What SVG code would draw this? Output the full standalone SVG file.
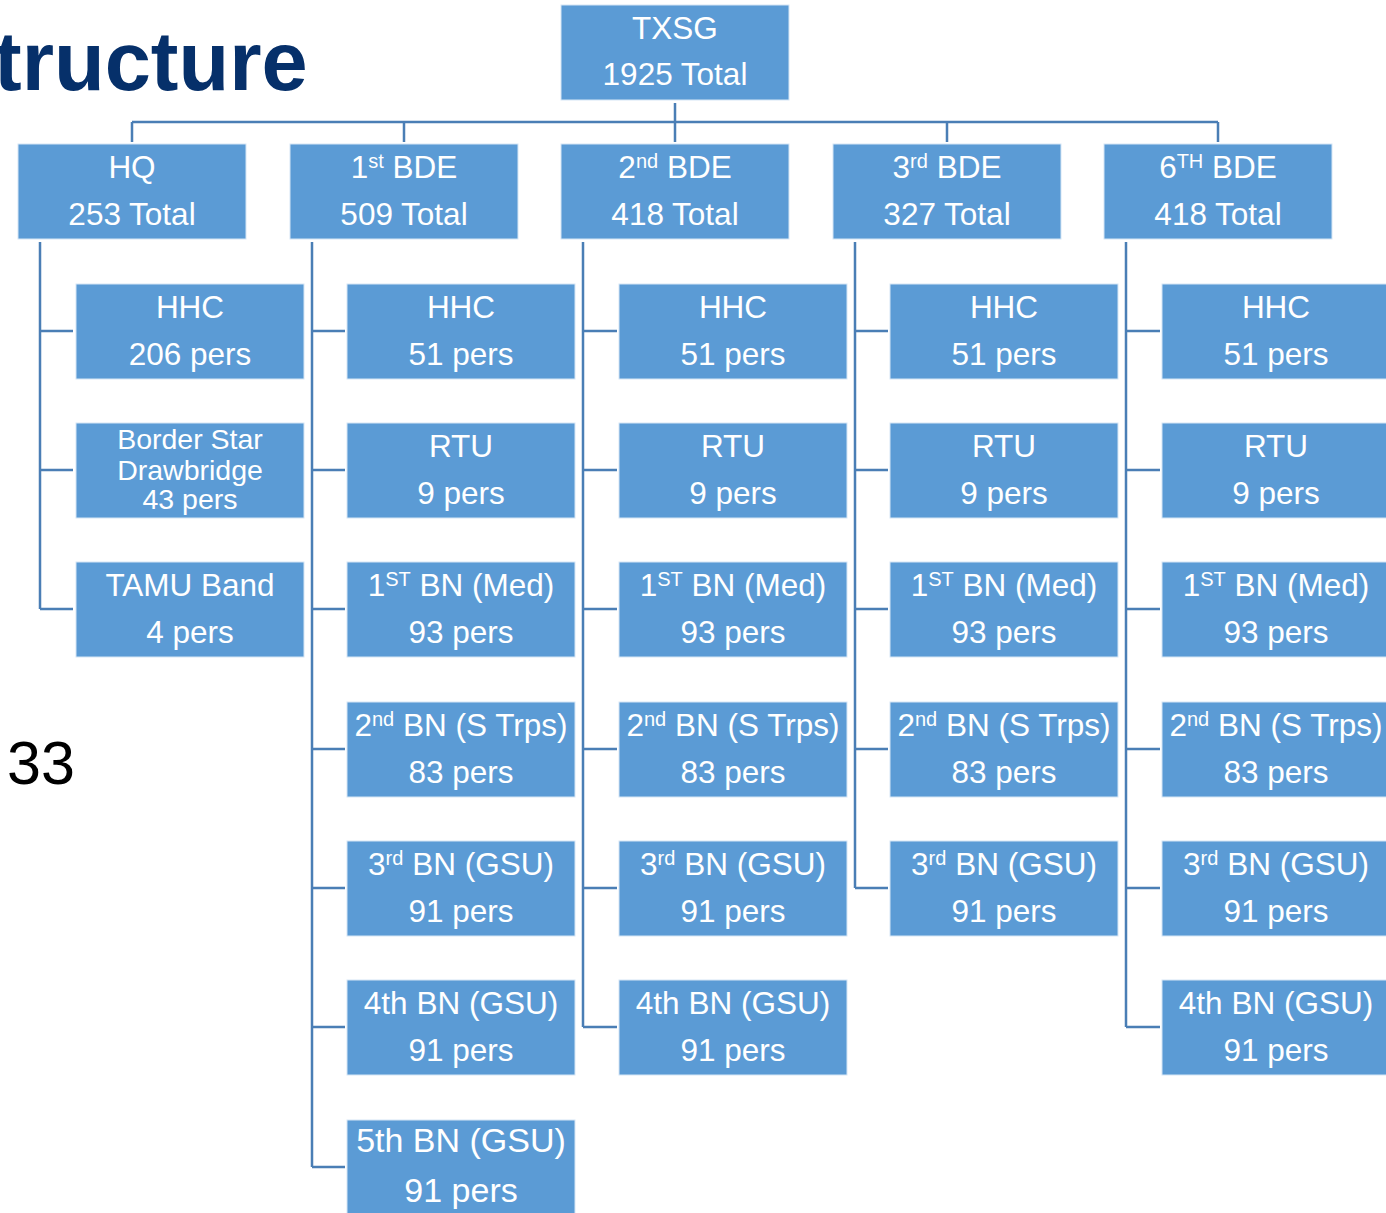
<svg xmlns="http://www.w3.org/2000/svg" width="1386" height="1213" viewBox="0 0 1386 1213">
<style>
.box{fill:#5B9BD5;stroke:#D6E6F5;stroke-width:1}
.t{font-family:"Liberation Sans",Arial,sans-serif;font-size:31.5px;fill:#fff;text-anchor:middle}
.s{font-size:20px}
.c{fill:none;stroke:#4A7EB5;stroke-width:2.5}
</style>
<rect width="1386" height="1213" fill="#fff"/>
<text x="-6" y="90" font-family="Liberation Sans,Arial,sans-serif" font-weight="bold" font-size="83" fill="#06306A">tructure</text>
<text x="7" y="784" font-family="Liberation Sans,Arial,sans-serif" font-size="61" fill="#000">33</text>
<g id="connectors">
<path class="c" d="M675 103V122M132 122H1218M132 122V142M404 122V142M675 122V142M947 122V142M1218 122V142"/>
<path class="c" d="M40 242V609M40 331H73M40 470H73M40 609H73"/>
<path class="c" d="M312 242V1167M312 331H345M312 470H345M312 609H345M312 749H345M312 888H345M312 1027H345M312 1167H345"/>
<path class="c" d="M583 242V1027M583 331H617M583 470H617M583 609H617M583 749H617M583 888H617M583 1027H617"/>
<path class="c" d="M855 242V888M855 331H888M855 470H888M855 609H888M855 749H888M855 888H888"/>
<path class="c" d="M1126 242V1027M1126 331H1160M1126 470H1160M1126 609H1160M1126 749H1160M1126 888H1160M1126 1027H1160"/>
</g>
<g id="txsg"><rect class="box" x="561" y="5" width="228" height="95"/><text class="t" x="675" y="39">TXSG</text><text class="t" x="675" y="85">1925 Total</text></g>
<g id="hq"><rect class="box" x="18" y="144" width="228" height="95"/><text class="t" x="132" y="178">HQ</text><text class="t" x="132" y="225">253 Total</text></g>
<g id="bde1"><rect class="box" x="290" y="144" width="228" height="95"/><text class="t" x="404" y="178">1<tspan class="s" dy="-10">st</tspan><tspan dy="10"> BDE</tspan></text><text class="t" x="404" y="225">509 Total</text></g>
<g id="bde2"><rect class="box" x="561" y="144" width="228" height="95"/><text class="t" x="675" y="178">2<tspan class="s" dy="-10">nd</tspan><tspan dy="10"> BDE</tspan></text><text class="t" x="675" y="225">418 Total</text></g>
<g id="bde3"><rect class="box" x="833" y="144" width="228" height="95"/><text class="t" x="947" y="178">3<tspan class="s" dy="-10">rd</tspan><tspan dy="10"> BDE</tspan></text><text class="t" x="947" y="225">327 Total</text></g>
<g id="bde6"><rect class="box" x="1104" y="144" width="228" height="95"/><text class="t" x="1218" y="178">6<tspan class="s" dy="-10">TH</tspan><tspan dy="10"> BDE</tspan></text><text class="t" x="1218" y="225">418 Total</text></g>

<g id="hq-hhc"><rect class="box" x="76" y="284" width="228" height="95"/><text class="t" x="190" y="318">HHC</text><text class="t" x="190" y="365">206 pers</text></g>
<g id="hq-bsd"><rect class="box" x="76" y="423" width="228" height="95"/><text class="t" x="190" y="449" style="font-size:28.5px">Border Star</text><text class="t" x="190" y="480" style="font-size:28.5px">Drawbridge</text><text class="t" x="190" y="509" style="font-size:28.5px">43 pers</text></g>
<g id="hq-band"><rect class="box" x="76" y="562" width="228" height="95"/><text class="t" x="190" y="596">TAMU Band</text><text class="t" x="190" y="643">4 pers</text></g>

<g id="b1-hhc"><rect class="box" x="347" y="284" width="228" height="95"/><text class="t" x="461" y="318">HHC</text><text class="t" x="461" y="365">51 pers</text></g>
<g id="b1-rtu"><rect class="box" x="347" y="423" width="228" height="95"/><text class="t" x="461" y="457">RTU</text><text class="t" x="461" y="504">9 pers</text></g>
<g id="b1-bn1"><rect class="box" x="347" y="562" width="228" height="95"/><text class="t" x="461" y="596">1<tspan class="s" dy="-10">ST</tspan><tspan dy="10"> BN (Med)</tspan></text><text class="t" x="461" y="643">93 pers</text></g>
<g id="b1-bn2"><rect class="box" x="347" y="702" width="228" height="95"/><text class="t" x="461" y="736">2<tspan class="s" dy="-10">nd</tspan><tspan dy="10"> BN (S Trps)</tspan></text><text class="t" x="461" y="783">83 pers</text></g>
<g id="b1-bn3"><rect class="box" x="347" y="841" width="228" height="95"/><text class="t" x="461" y="875">3<tspan class="s" dy="-10">rd</tspan><tspan dy="10"> BN (GSU)</tspan></text><text class="t" x="461" y="922">91 pers</text></g>
<g id="b1-bn4"><rect class="box" x="347" y="980" width="228" height="95"/><text class="t" x="461" y="1014">4th BN (GSU)</text><text class="t" x="461" y="1061">91 pers</text></g>
<g id="b1-bn5"><rect class="box" x="347" y="1120" width="228" height="95"/><text class="t" x="461" y="1152" style="font-size:34px">5th BN (GSU)</text><text class="t" x="461" y="1202" style="font-size:34px">91 pers</text></g>

<g id="b2-hhc"><rect class="box" x="619" y="284" width="228" height="95"/><text class="t" x="733" y="318">HHC</text><text class="t" x="733" y="365">51 pers</text></g>
<g id="b2-rtu"><rect class="box" x="619" y="423" width="228" height="95"/><text class="t" x="733" y="457">RTU</text><text class="t" x="733" y="504">9 pers</text></g>
<g id="b2-bn1"><rect class="box" x="619" y="562" width="228" height="95"/><text class="t" x="733" y="596">1<tspan class="s" dy="-10">ST</tspan><tspan dy="10"> BN (Med)</tspan></text><text class="t" x="733" y="643">93 pers</text></g>
<g id="b2-bn2"><rect class="box" x="619" y="702" width="228" height="95"/><text class="t" x="733" y="736">2<tspan class="s" dy="-10">nd</tspan><tspan dy="10"> BN (S Trps)</tspan></text><text class="t" x="733" y="783">83 pers</text></g>
<g id="b2-bn3"><rect class="box" x="619" y="841" width="228" height="95"/><text class="t" x="733" y="875">3<tspan class="s" dy="-10">rd</tspan><tspan dy="10"> BN (GSU)</tspan></text><text class="t" x="733" y="922">91 pers</text></g>
<g id="b2-bn4"><rect class="box" x="619" y="980" width="228" height="95"/><text class="t" x="733" y="1014">4th BN (GSU)</text><text class="t" x="733" y="1061">91 pers</text></g>

<g id="b3-hhc"><rect class="box" x="890" y="284" width="228" height="95"/><text class="t" x="1004" y="318">HHC</text><text class="t" x="1004" y="365">51 pers</text></g>
<g id="b3-rtu"><rect class="box" x="890" y="423" width="228" height="95"/><text class="t" x="1004" y="457">RTU</text><text class="t" x="1004" y="504">9 pers</text></g>
<g id="b3-bn1"><rect class="box" x="890" y="562" width="228" height="95"/><text class="t" x="1004" y="596">1<tspan class="s" dy="-10">ST</tspan><tspan dy="10"> BN (Med)</tspan></text><text class="t" x="1004" y="643">93 pers</text></g>
<g id="b3-bn2"><rect class="box" x="890" y="702" width="228" height="95"/><text class="t" x="1004" y="736">2<tspan class="s" dy="-10">nd</tspan><tspan dy="10"> BN (S Trps)</tspan></text><text class="t" x="1004" y="783">83 pers</text></g>
<g id="b3-bn3"><rect class="box" x="890" y="841" width="228" height="95"/><text class="t" x="1004" y="875">3<tspan class="s" dy="-10">rd</tspan><tspan dy="10"> BN (GSU)</tspan></text><text class="t" x="1004" y="922">91 pers</text></g>

<g id="b6-hhc"><rect class="box" x="1162" y="284" width="228" height="95"/><text class="t" x="1276" y="318">HHC</text><text class="t" x="1276" y="365">51 pers</text></g>
<g id="b6-rtu"><rect class="box" x="1162" y="423" width="228" height="95"/><text class="t" x="1276" y="457">RTU</text><text class="t" x="1276" y="504">9 pers</text></g>
<g id="b6-bn1"><rect class="box" x="1162" y="562" width="228" height="95"/><text class="t" x="1276" y="596">1<tspan class="s" dy="-10">ST</tspan><tspan dy="10"> BN (Med)</tspan></text><text class="t" x="1276" y="643">93 pers</text></g>
<g id="b6-bn2"><rect class="box" x="1162" y="702" width="228" height="95"/><text class="t" x="1276" y="736">2<tspan class="s" dy="-10">nd</tspan><tspan dy="10"> BN (S Trps)</tspan></text><text class="t" x="1276" y="783">83 pers</text></g>
<g id="b6-bn3"><rect class="box" x="1162" y="841" width="228" height="95"/><text class="t" x="1276" y="875">3<tspan class="s" dy="-10">rd</tspan><tspan dy="10"> BN (GSU)</tspan></text><text class="t" x="1276" y="922">91 pers</text></g>
<g id="b6-bn4"><rect class="box" x="1162" y="980" width="228" height="95"/><text class="t" x="1276" y="1014">4th BN (GSU)</text><text class="t" x="1276" y="1061">91 pers</text></g>
</svg>
